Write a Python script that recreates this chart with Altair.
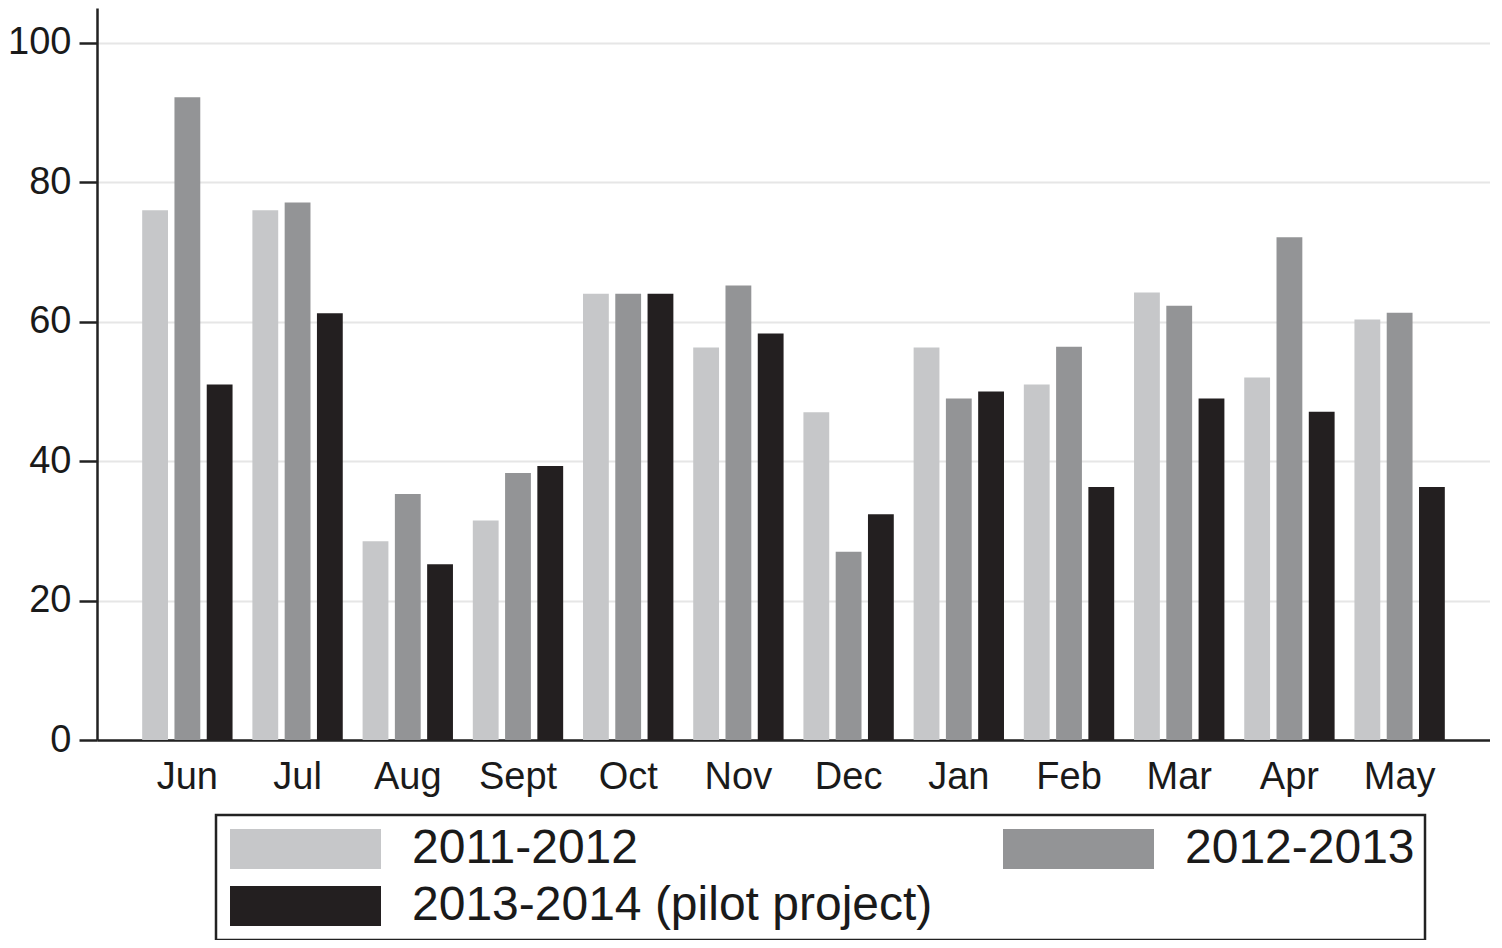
import altair as alt
import pandas as pd

FONT = "Liberation Sans"

months = ["Jun", "Jul", "Aug", "Sept", "Oct", "Nov", "Dec", "Jan", "Feb", "Mar", "Apr", "May"]
series = ["2011-2012", "2012-2013", "2013-2014 (pilot project)"]
v_2011_2012 = [76, 76, 28.5, 31.5, 64, 56.3, 47, 56.3, 51, 64.2, 52, 60.3]
v_2012_2013 = [92.2, 77.1, 35.3, 38.3, 64, 65.2, 27, 49, 56.4, 62.3, 72.1, 61.3]
v_2013_2014 = [51, 61.2, 25.2, 39.3, 64, 58.3, 32.4, 50, 36.3, 49, 47.1, 36.3]
colors = ["#c6c7c9", "#939496", "#231f20"]
y_ticks = [0, 20, 40, 60, 80, 100]

rows = []
for name, vals in zip(series, [v_2011_2012, v_2012_2013, v_2013_2014]):
    for m, v in zip(months, vals):
        rows.append({"month": m, "series": name, "value": v})
df = pd.DataFrame(rows)

# wide rectangular legend swatch (custom symbol path, left edge at entry start)
swatch = "M-1,-1H6.55V1H-1Z"

chart = alt.Chart(df).mark_bar().encode(
    x=alt.X(
        "month:N", sort=months, title=None,
        scale=alt.Scale(paddingInner=0.18, paddingOuter=0.41),
        axis=alt.Axis(labelAngle=0, ticks=False, labelFontSize=38, labelPadding=18,
                      domainColor="#222222", domainWidth=2.5, labelColor="#1a1a1a",
                      labelFont=FONT, grid=False),
    ),
    xOffset=alt.XOffset("series:N", sort=series, scale=alt.Scale(paddingInner=0.2)),
    y=alt.Y(
        "value:Q", title=None,
        scale=alt.Scale(domain=[0, 105], nice=False, zero=True),
        axis=alt.Axis(values=y_ticks, tickSize=18, tickWidth=2.5, tickColor="#222222",
                      labelFontSize=38, labelPadding=8, domainColor="#222222", domainWidth=2.5,
                      gridColor="#e6e6e6", gridWidth=2, labelColor="#1a1a1a", labelFont=FONT),
    ),
    color=alt.Color(
        "series:N", sort=series,
        scale=alt.Scale(domain=series, range=colors),
        legend=alt.Legend(
            title=None, orient="none", legendX=119, legendY=807, columns=2,
            direction="horizontal",
            columnPadding=66, rowPadding=9, padding=10, strokeColor="#222222",
            symbolType=swatch, symbolSize=1600, symbolStrokeWidth=0, symbolOpacity=1,
            labelFontSize=48, labelOffset=138, labelLimit=900, labelColor="#1a1a1a",
            labelFont=FONT,
        ),
    ),
).properties(
    width=1393, height=732,
    padding={"left": 89, "top": 0, "right": 0, "bottom": 200},
    autosize=alt.AutoSizeParams(type="none"),
).configure(
    font=FONT, background="white",
    view=alt.ViewConfig(stroke=None),
    legend=alt.LegendConfig(strokeWidth=2.5),
)

chart.save("out.html", embed_options={"renderer": "svg", "actions": False})
